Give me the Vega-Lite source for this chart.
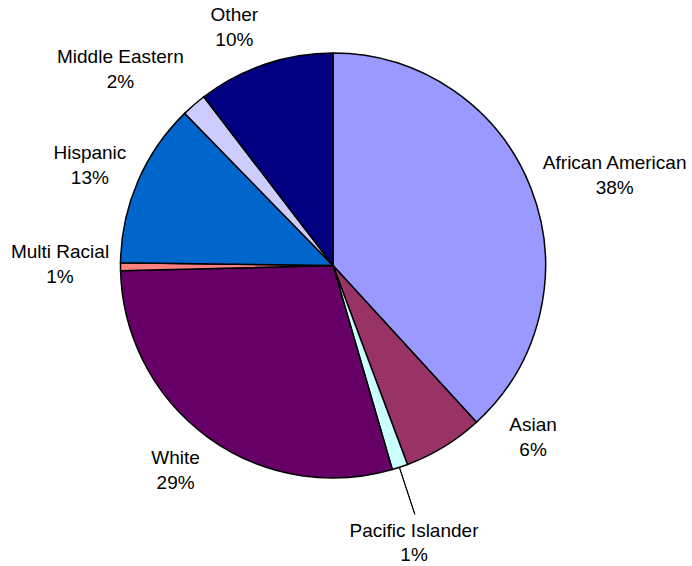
{
  "$schema": "https://vega.github.io/schema/vega-lite/v6.json",
  "width": 666,
  "height": 531,
  "padding": {"left": 0, "top": 0, "right": 26, "bottom": 35},
  "autosize": {"type": "none"},
  "background": "white",
  "config": {"view": {"stroke": null}},
  "data": {
    "values": [
      {"order": 1, "group": "African American", "value": 0.382},
      {"order": 2, "group": "Asian", "value": 0.061},
      {"order": 3, "group": "Pacific Islander", "value": 0.012},
      {"order": 4, "group": "White", "value": 0.291},
      {"order": 5, "group": "Multi Racial", "value": 0.006},
      {"order": 6, "group": "Hispanic", "value": 0.125},
      {"order": 7, "group": "Middle Eastern", "value": 0.019},
      {"order": 8, "group": "Other", "value": 0.104}
    ]
  },
  "encoding": {
    "theta": {"field": "value", "type": "quantitative", "stack": true, "scale": {"domain": [0, 1]}},
    "order": {"field": "order", "type": "quantitative", "sort": "ascending"}
  },
  "layer": [
    {
      "mark": {"type": "arc", "radius": 212.5, "stroke": "black", "strokeWidth": 1.5},
      "encoding": {
        "color": {
          "field": "group",
          "type": "nominal",
          "scale": {
            "domain": ["African American", "Asian", "Pacific Islander", "White", "Multi Racial", "Hispanic", "Middle Eastern", "Other"],
            "range": ["#9999FF", "#993366", "#CCFFFF", "#660066", "#FF8080", "#0066CC", "#CCCCFF", "#000080"]
          },
          "legend": null
        }
      }
    },
    {
      "transform": [
        {"window": [{"op": "sum", "field": "value", "as": "cum"}], "sort": [{"field": "order", "order": "ascending"}], "frame": [null, 0]},
        {"filter": "datum.group === 'Pacific Islander'"}
      ],
      "mark": {"type": "arc", "radius": 262, "radius2": 213, "stroke": "black", "strokeWidth": 1, "fillOpacity": 0, "thetaOffset": -0.035, "theta2Offset": -0.035},
      "encoding": {
        "theta": {"field": "cum", "type": "quantitative", "stack": null},
        "theta2": {"field": "cum"}
      }
    },
    {
      "mark": {
        "type": "text",
        "radius": 270,
        "font": "Liberation Sans",
        "fontSize": 19,
        "align": "center",
        "baseline": "middle",
        "color": "black",
        "dx": {"expr": "datum.group==='African American'?30:datum.group==='Asian'?59:datum.group==='Pacific Islander'?-4:datum.group==='White'?2:datum.group==='Multi Racial'?-3:datum.group==='Hispanic'?5:datum.group==='Middle Eastern'?-36:-12"},
        "dy": {"expr": "datum.group==='African American'?-4.5:datum.group==='Asian'?-70.5:datum.group==='Pacific Islander'?9.5:datum.group==='White'?-25.5:datum.group==='Multi Racial'?-15.5:datum.group==='Hispanic'?-6.5:datum.group==='Middle Eastern'?-4.5:5.5"}
      },
      "encoding": {
        "text": {"field": "group", "type": "nominal"},
        "detail": {"field": "group", "type": "nominal"}
      }
    },
    {
      "mark": {
        "type": "text",
        "radius": 270,
        "font": "Liberation Sans",
        "fontSize": 19,
        "align": "center",
        "baseline": "middle",
        "color": "black",
        "dx": {"expr": "datum.group==='African American'?30:datum.group==='Asian'?59:datum.group==='Pacific Islander'?-4:datum.group==='White'?2:datum.group==='Multi Racial'?-3:datum.group==='Hispanic'?5:datum.group==='Middle Eastern'?-36:-12"},
        "dy": {"expr": "datum.group==='African American'?20.5:datum.group==='Asian'?-45.5:datum.group==='Pacific Islander'?33.5:datum.group==='White'?-0.5:datum.group==='Multi Racial'?9.5:datum.group==='Hispanic'?18.5:datum.group==='Middle Eastern'?20.5:30.5"}
      },
      "encoding": {
        "text": {"field": "value", "type": "quantitative", "format": ".0%"},
        "detail": {"field": "group", "type": "nominal"}
      }
    }
  ]
}
